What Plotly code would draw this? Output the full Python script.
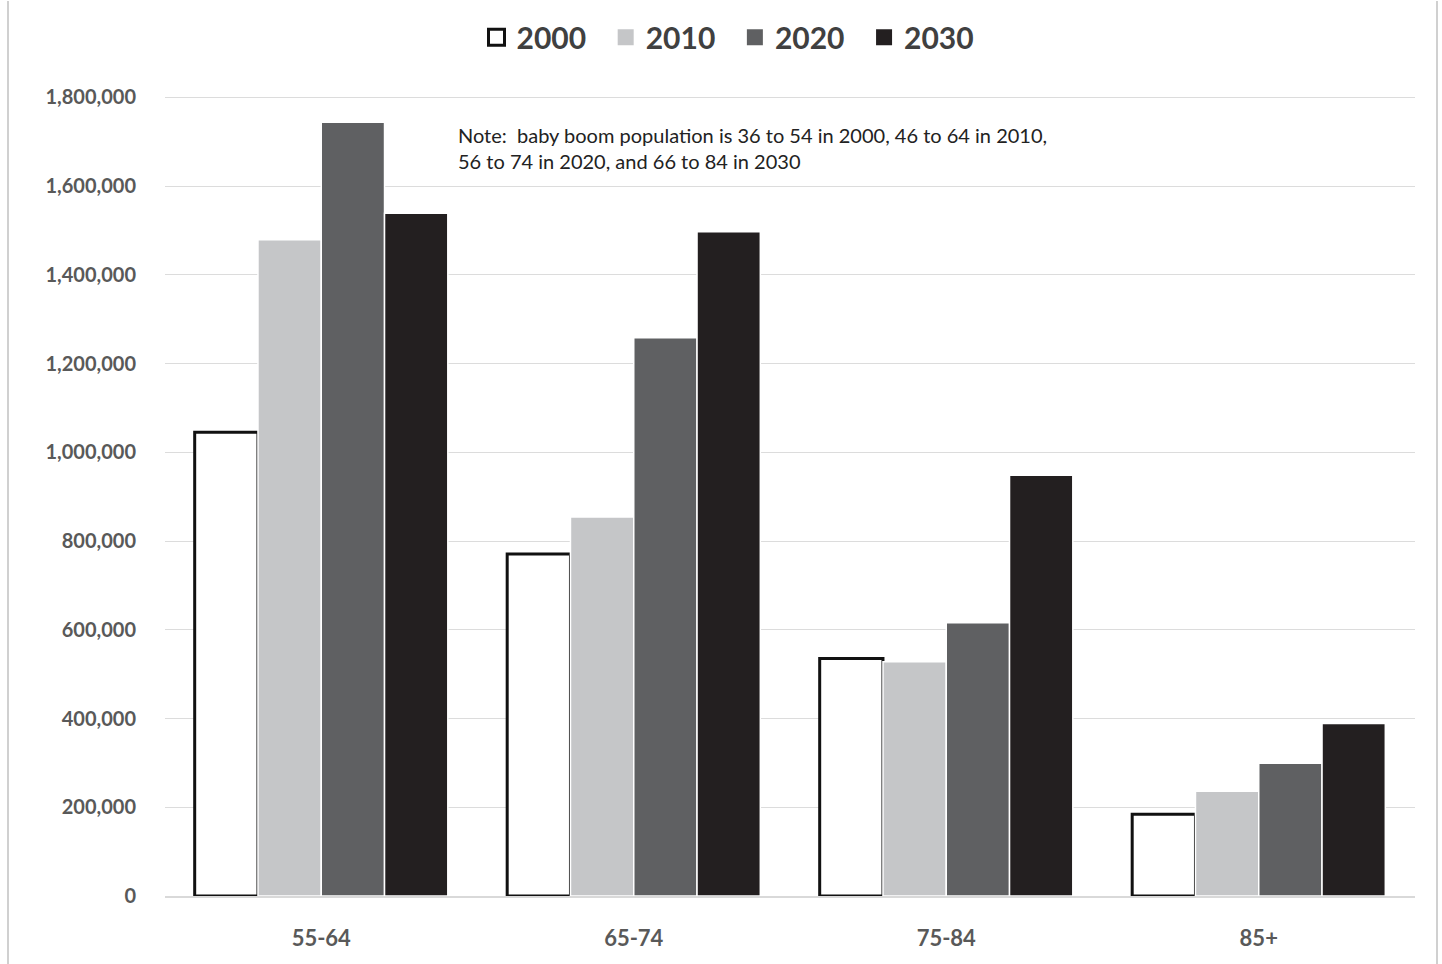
import plotly.graph_objects as go

categories = ["55-64", "65-74", "75-84", "85+"]
years = ["2000", "2010", "2020", "2030"]
v2000 = [1045000, 771000, 535000, 184000]
v2010 = [1479000, 854000, 528000, 236000]
v2020 = [1744000, 1258000, 616000, 299000]
v2030 = [1539000, 1497000, 948000, 389000]
series = [v2000, v2010, v2020, v2030]

fills = ["#ffffff", "#c5c6c8", "#5f6062", "#231f20"]
lines = ["#111111", "#ffffff", "#ffffff", "#ffffff"]
lw = [3, 1.5, 1.5, 1.5]

fig = go.Figure()
for name, vals, fc, lc, w in zip(years, series, fills, lines, lw):
    fig.add_trace(go.Bar(
        x=categories, y=vals, name=name, showlegend=False,
        marker=dict(color=fc, line=dict(color=lc, width=w)),
    ))
# legend entries with larger square swatches
for i, (name, fc, lc) in enumerate(zip(years, fills, ["#111111", fills[1], fills[2], fills[3]])):
    label = name + ("\u00a0\u00a0" if i < len(years) - 1 else "")
    fig.add_trace(go.Scatter(
        x=[None], y=[None], mode="markers", name=label,
        marker=dict(symbol="square", size=20, color=fc, line=dict(color=lc, width=3 if name == "2000" else 0)),
    ))

fig.update_layout(
    width=1442, height=964,
    barmode="group", bargap=0.19, bargroupgap=0.0,
    paper_bgcolor="white", plot_bgcolor="white",
    margin=dict(l=165, r=27, t=95, b=68),
    font=dict(family="Lato, Open Sans, sans-serif", color="#595959"),
    legend=dict(
        orientation="h", x=(728 - 165) / 1250, xanchor="center", y=1.072, yanchor="middle",
        font=dict(size=30, color="#404040", family="Lato, sans-serif", weight="bold"),
        itemsizing="trace", traceorder="normal", itemwidth=30,
    ),
    annotations=[dict(
        text="Note:  baby boom population is 36 to 54 in 2000, 46 to 64 in 2010,<br>56 to 74 in 2020, and 66 to 84 in 2030",
        xref="paper", yref="paper", x=(456 - 165) / 1250, y=(896 - 120) / 801,
        xanchor="left", yanchor="top", align="left", showarrow=False,
        font=dict(size=20, color="#222222", family="Lato, sans-serif"),
    )],
    shapes=[
        dict(type="line", xref="paper", yref="paper", x0=-(165 - 8) / 1250, x1=-(165 - 8) / 1250,
             y0=-68 / 801, y1=(896) / 801, line=dict(color="#d0d0d0", width=2)),
        dict(type="line", xref="paper", yref="paper", x0=1 + 22 / 1250, x1=1 + 22 / 1250,
             y0=-68 / 801, y1=(896) / 801, line=dict(color="#d0d0d0", width=2)),
    ],
)
fig.update_yaxes(
    range=[0, 1803000], tickvals=[0, 200000, 400000, 600000, 800000, 1000000, 1200000, 1400000, 1600000, 1800000],
    tickformat=",d", showgrid=True, gridcolor="#dcdcdc", gridwidth=1, zeroline=False,
    tickfont=dict(size=20, color="#595959", weight="bold"), ticklabelstandoff=28,
    showline=False,
)
fig.update_xaxes(
    showline=True, linecolor="#d9d9d9", linewidth=1.5,
    tickfont=dict(size=22, color="#595959", weight="bold"), ticklabelstandoff=22,
)

fig.write_html("out.html")
